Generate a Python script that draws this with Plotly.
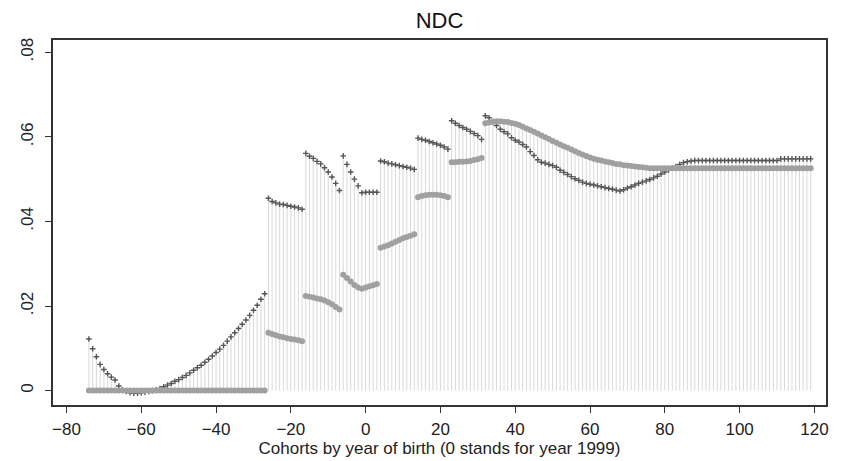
import plotly.graph_objects as go

# Cohorts: year of birth relative to 1999
cohorts = list(range(-74, 120))

# Dark series ("+" markers)
dark_a = [0.0122, 0.0099, 0.0080, 0.0062, 0.0050, 0.0040, 0.0032, 0.0025, 0.0011, 0.0002,
          -0.0002, -0.0005, -0.0006, -0.0006, -0.0005, -0.0004, -0.0002, 0.0000, 0.0002, 0.0005,
          0.0009, 0.0013, 0.0017, 0.0022, 0.0026, 0.0031, 0.0036, 0.0042, 0.0048, 0.0054,
          0.0060, 0.0067, 0.0074, 0.0082, 0.0090, 0.0098, 0.0107, 0.0117, 0.0127, 0.0137,
          0.0147, 0.0157, 0.0167, 0.0178, 0.0190, 0.0202, 0.0216, 0.0229]           # -74..-27
dark_b = [0.0455, 0.0447, 0.0444, 0.0441, 0.0440, 0.0438, 0.0436, 0.0434, 0.0432, 0.0429]  # -26..-17
dark_c = [0.0561, 0.0554, 0.0549, 0.0542, 0.0536, 0.0527, 0.0517, 0.0505, 0.0490, 0.0473]  # -16..-7
dark_d = [0.0555, 0.0535, 0.0517, 0.0500, 0.0484, 0.0468, 0.0469, 0.0469, 0.0469, 0.0469]  # -6..3
dark_e = [0.0543, 0.0541, 0.0538, 0.0536, 0.0534, 0.0532, 0.0530, 0.0528, 0.0526, 0.0523]  # 4..13
dark_f = [0.0597, 0.0594, 0.0592, 0.0589, 0.0586, 0.0583, 0.0580, 0.0576, 0.0571]          # 14..22
dark_g = [0.0638, 0.0632, 0.0627, 0.0622, 0.0618, 0.0613, 0.0608, 0.0603, 0.0594]          # 23..31
dark_h = [0.0650, 0.0645, 0.0636, 0.0627,                                                  # 32..35
          0.0618, 0.0612, 0.0607, 0.0598, 0.0592, 0.0588, 0.0582, 0.0576, 0.0565, 0.0556,  # 36..45
          0.0546, 0.0540, 0.0538, 0.0535, 0.0532, 0.0528, 0.0521, 0.0516, 0.0511, 0.0506,  # 46..55
          0.0501, 0.0497, 0.0493, 0.0490, 0.0488, 0.0486, 0.0484, 0.0482, 0.0480, 0.0478,  # 56..65
          0.0476, 0.0474, 0.0472, 0.0475, 0.0479, 0.0482, 0.0486, 0.0490, 0.0493, 0.0496,  # 66..75
          0.0499, 0.0503, 0.0507, 0.0512, 0.0517, 0.0522, 0.0526, 0.0530, 0.0535, 0.0539,  # 76..85
          0.0541, 0.0543] + [0.0544] * 23 + [0.0548] * 9                                   # 86..119

# Gray series (circle markers)
gray_a = [0.0] * 48                                                                        # -74..-27
gray_b = [0.0137, 0.0134, 0.0131, 0.0128, 0.0126, 0.0124, 0.0122, 0.0121, 0.0119, 0.0117]  # -26..-17
gray_c = [0.0224, 0.0222, 0.0220, 0.0218, 0.0216, 0.0213, 0.0209, 0.0204, 0.0198, 0.0192]  # -16..-7
gray_d = [0.0274, 0.0266, 0.0258, 0.0250, 0.0244, 0.0241, 0.0244, 0.0247, 0.0249, 0.0252]  # -6..3
gray_e = [0.0338, 0.0341, 0.0344, 0.0348, 0.0352, 0.0356, 0.0360, 0.0363, 0.0366, 0.0370]  # 4..13
gray_f = [0.0457, 0.0460, 0.0462, 0.0463, 0.0463, 0.0463, 0.0462, 0.0460, 0.0457]          # 14..22
gray_g = [0.0540, 0.0540, 0.0541, 0.0541, 0.0542, 0.0543, 0.0545, 0.0547, 0.0550]          # 23..31
gray_h = [0.0632, 0.0634, 0.0636, 0.0637, 0.0637, 0.0636, 0.0635, 0.0633, 0.0631, 0.0628,  # 32..41
          0.0624, 0.0620, 0.0616, 0.0612, 0.0608, 0.0603, 0.0599, 0.0595, 0.0590, 0.0586,  # 42..51
          0.0582, 0.0578, 0.0574, 0.0570, 0.0566, 0.0562, 0.0558, 0.0555, 0.0551, 0.0548,  # 52..61
          0.0546, 0.0544, 0.0542, 0.0540, 0.0538, 0.0536, 0.0535, 0.0533, 0.0532, 0.0531,  # 62..71
          0.0530, 0.0529, 0.0528, 0.0527] + [0.0526] * 44                                  # 72..119

dark = dark_a + dark_b + dark_c + dark_d + dark_e + dark_f + dark_g + dark_h
gray = gray_a + gray_b + gray_c + gray_d + gray_e + gray_f + gray_g + gray_h

x_ticks = [-80, -60, -40, -20, 0, 20, 40, 60, 80, 100, 120]
y_ticks = [0, 0.02, 0.04, 0.06, 0.08]
y_tick_labels = ["0", ".02", ".04", ".06", ".08"]

# Drop lines from zero to the upper of the two series
sx, sy = [], []
for xv, a, b in zip(cohorts, dark, gray):
    sx += [xv, xv, None]
    sy += [0, max(a, b), None]

fig = go.Figure()
fig.add_trace(go.Scatter(x=sx, y=sy, mode="lines",
                         line=dict(color="#d9d9d9", width=1),
                         hoverinfo="skip", showlegend=False))
fig.add_trace(go.Scatter(x=cohorts, y=dark, mode="markers",
                         marker=dict(symbol="cross-thin", size=4,
                                     line=dict(color="#555555", width=1.4)),
                         showlegend=False))
fig.add_trace(go.Scatter(x=cohorts, y=gray, mode="markers",
                         marker=dict(symbol="circle", size=6, color="#a0a0a0",
                                     line=dict(width=0)),
                         showlegend=False))

axis_font = dict(family="Liberation Sans, Arial, sans-serif", size=17, color="#222")
# The page body has an 8px margin, so the figure is sized/margined to compensate.
fig.update_layout(
    width=835, height=453,
    margin=dict(l=45, r=17, t=32, b=56),
    paper_bgcolor="white", plot_bgcolor="white",
    title=dict(text="NDC", x=0.5, xref="paper", xanchor="center",
               y=0.9735, yref="container", yanchor="middle",
               font=dict(family="Liberation Sans, Arial, sans-serif", size=22, color="#111")),
    xaxis=dict(range=[-83.6, 123.1], tickvals=x_ticks, ticks="outside", ticklen=6,
               tickwidth=1.3, tickcolor="#333", showgrid=False, zeroline=False,
               showline=True, linecolor="#333", linewidth=1.5, mirror=True,
               tickfont=axis_font, ticklabelstandoff=2, automargin=False,
               title=dict(text="Cohorts by year of birth (0 stands for year 1999)",
                          font=axis_font, standoff=4)),
    yaxis=dict(range=[-0.0034, 0.0829], tickvals=y_ticks, ticktext=y_tick_labels,
               tickangle=-90, ticks="outside", ticklen=6, tickwidth=1.3, tickcolor="#333",
               showgrid=False, zeroline=False, showline=True, linecolor="#333",
               linewidth=1.5, mirror=True, tickfont=axis_font, ticklabelstandoff=5,
               automargin=False),
)

fig.write_html("out.html")
